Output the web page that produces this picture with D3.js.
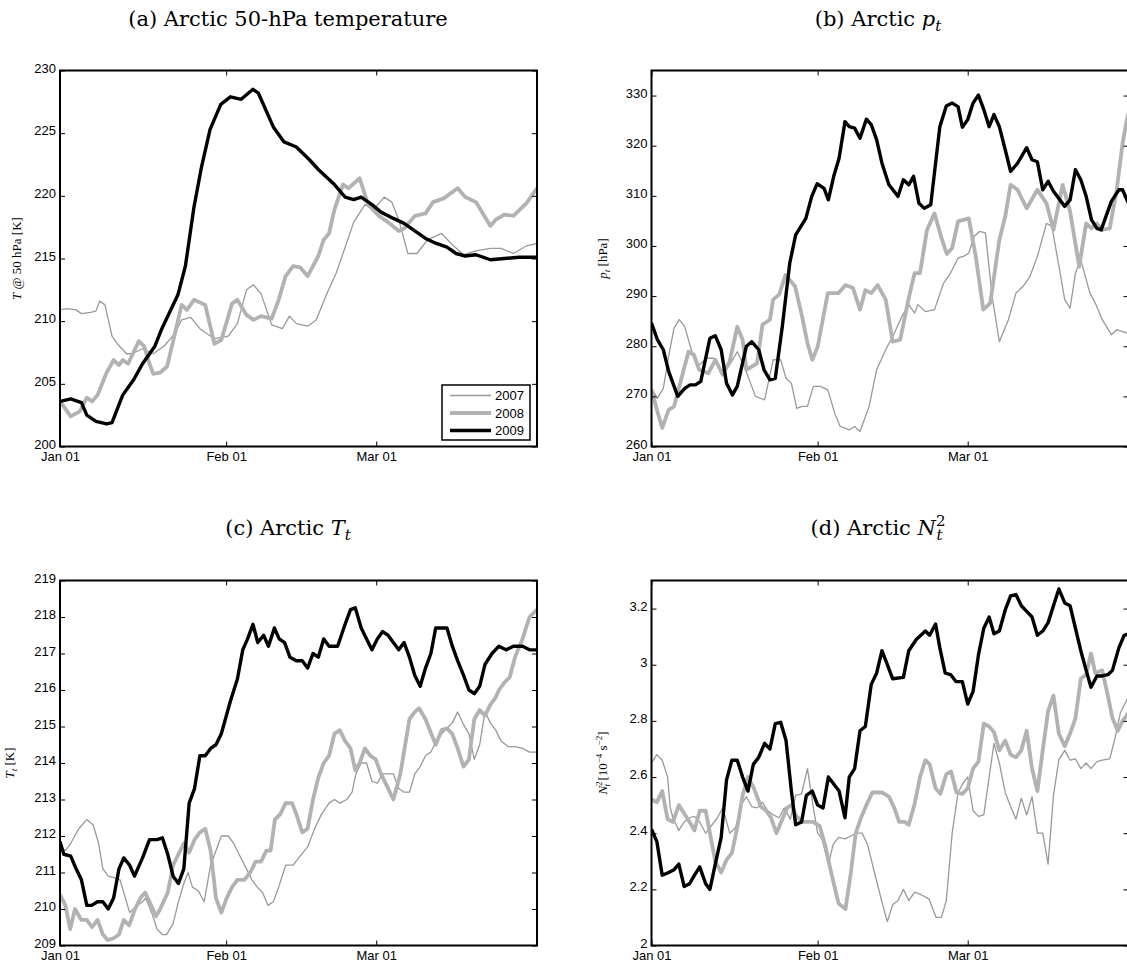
<!DOCTYPE html>
<html>
<head>
<meta charset="utf-8">
<script src="https://cdn.jsdelivr.net/npm/d3@7"></script>
<style>
  body { margin: 0; background: #fff; }
  svg { display: block; }
  .tick text { font-family: "Liberation Sans", Arial, sans-serif; font-size: 13px; fill: #000; }
  .tick line { stroke: #000; stroke-width: 1; }
  .title { font-family: "DejaVu Serif", serif; font-size: 21px; }
  .ylab { font-family: "Liberation Serif", serif; font-size: 13px; }
  .legend text { font-family: "Liberation Sans", Arial, sans-serif; font-size: 13px; }
</style>
</head>
<body>
<div id="chart"></div>
<script>
/**
 * Data: [day since Jan 01, value]
 */
const years = ["2007", "2008", "2009"],
    dayTicks = [0, 31, 59],
    dayLabels = ["Jan 01", "Feb 01", "Mar 01"],
    lastDay = 89;

// (a) 50-hPa temperature [K]
const a2007 = [[0,210.9],[1.3,211.0],[3,210.9],[4,210.6],[5.7,210.7],[6.7,210.8],[7.4,211.6],[8.4,211.3],[9.7,208.8],[10.7,208.2],[12.4,207.4],[13.4,207.4],[15.4,207.8],[17.4,207.4],[19.4,208.0],[21.4,209.0],[22.7,210.1],[24.4,210.3],[26.1,209.4],[28.8,208.6],[31.4,208.8],[33.1,209.8],[34.8,212.5],[36.1,212.9],[37.5,212.2],[39.5,209.7],[41.5,209.4],[42.8,210.4],[44.1,209.8],[46.2,209.6],[47.8,210.1],[49.8,212.2],[51.5,213.8],[52.8,215.4],[54.8,217.9],[56.9,219.3],[58.5,218.9],[60.5,219.9],[61.9,219.5],[63.2,218.1],[64.9,215.4],[66.6,215.4],[68.6,216.5],[71.2,217.0],[73.2,216.1],[75.3,215.3],[77.6,215.6],[80.3,215.8],[82.3,215.8],[84.6,215.4],[87,216.0],[89,216.2]];
const a2008 = [[0,203.6],[2,202.4],[3.7,202.8],[5,203.9],[6,203.6],[7,204.1],[8.7,205.9],[10,206.9],[11,206.5],[11.7,206.9],[12.7,206.6],[14.7,208.4],[15.7,208.0],[16.7,206.6],[17.4,205.8],[18.7,205.9],[20,206.4],[22.7,211.3],[23.7,210.9],[25,211.7],[27.1,211.3],[28.8,208.2],[30.1,208.5],[32.1,211.4],[33.1,211.7],[34.8,210.5],[36.1,210.1],[37.5,210.4],[39.5,210.2],[40.8,211.7],[42.1,213.6],[43.5,214.4],[44.8,214.3],[46.2,213.6],[48.2,215.2],[49.2,216.5],[50.2,217.0],[51.2,218.9],[52.8,220.9],[53.8,220.6],[55.9,221.4],[57.5,219.3],[59.5,218.4],[61.5,217.8],[63.2,217.2],[64.2,217.4],[66.2,218.4],[68.2,218.6],[69.6,219.5],[71.6,219.8],[74.2,220.6],[75.6,219.9],[77.6,219.5],[80.3,217.6],[81.3,218.1],[82.9,218.5],[84.6,218.4],[87,219.4],[89,220.6]];
const a2009 = [[0,203.6],[2,203.8],[4,203.5],[5,202.5],[6.7,202.0],[8.7,201.8],[9.7,201.9],[11.7,204.1],[13.7,205.3],[15.4,206.6],[17.7,208.0],[19,209.4],[22,212.1],[23.4,214.4],[25,219.1],[26.4,222.3],[28,225.3],[30,227.3],[31.8,227.9],[33.8,227.7],[36,228.5],[37,228.2],[39.8,225.5],[41.8,224.3],[44.1,223.9],[46.5,222.9],[48.2,222.1],[49.2,221.7],[51.2,220.9],[53.2,219.9],[54.8,219.7],[56.2,219.9],[58.2,219.3],[59.9,218.7],[62.2,218.2],[64.2,217.8],[66.2,217.2],[68.2,216.6],[70.2,216.2],[72.2,215.9],[73.9,215.4],[75.6,215.2],[77.6,215.3],[80.3,214.9],[82.9,215.0],[85.6,215.1],[89,215.1]];

// (b) tropopause pressure [hPa]
const b2007 = [[0,271.6],[1.1,269.6],[2.2,271.6],[3.2,278.0],[4.2,283.6],[5.2,285.3],[6.2,283.9],[7.6,278.6],[8.6,276.0],[10.3,277.6],[11.6,277.6],[13,275.0],[14.6,276.3],[16,278.9],[17.3,276.0],[19.4,270.0],[21.1,269.3],[22.7,277.3],[24.1,277.3],[25.1,273.6],[26.1,272.6],[27.1,267.6],[28.1,268.0],[29.1,268.0],[30.2,272.0],[31.5,272.0],[32.9,271.3],[34.2,266.6],[35.2,264.0],[36.9,263.3],[37.9,264.0],[38.9,263.0],[40.6,268.0],[42,275.3],[43.7,279.3],[45.3,282.6],[46.7,285.9],[48,288.3],[49.1,286.6],[49.7,288.3],[51.1,286.9],[52.8,287.3],[54.5,292.6],[55.8,294.6],[57.2,297.6],[58.2,297.9],[59.2,298.6],[60.2,301.9],[61.2,302.9],[62.3,302.6],[63.6,289.6],[64.9,280.9],[66.6,285.3],[68,290.6],[69.3,291.9],[70.6,293.9],[72,297.9],[73.7,304.5],[74.7,303.9],[75.7,297.9],[77.1,289.3],[78.1,287.6],[79.1,294.6],[80.1,297.2],[81.8,290.6],[82.8,288.6],[84.1,285.3],[85.8,282.3],[86.8,283.3],[88.7,282.6],[89,282.6]];
const b2008 = [[0,271.3],[1.1,267.0],[2,263.7],[3.2,267.3],[4.2,268.0],[5.2,272.0],[6.9,278.9],[7.9,278.3],[8.9,275.3],[10.6,274.6],[11.9,277.3],[13.3,274.3],[14.6,277.0],[16,283.9],[17,281.3],[17.7,275.3],[19.7,276.6],[20.7,284.3],[22.1,285.3],[22.7,289.3],[23.8,290.3],[25,294.2],[26.8,291.9],[28.1,285.9],[29.1,280.6],[30,277.3],[31,279.9],[32.9,290.6],[34.9,290.6],[36.2,292.2],[37.6,291.6],[38.9,287.3],[39.9,291.2],[41,290.6],[42.2,292.2],[43.7,289.3],[45,280.9],[46.4,281.3],[48,289.6],[49.1,294.6],[50.1,294.6],[51.4,303.2],[52.8,306.5],[54.1,301.6],[55.1,298.4],[56.1,299.6],[57.2,304.9],[59.2,305.5],[60.5,297.9],[61.9,287.3],[63.2,288.6],[64.9,301.2],[66,305.9],[67,312.2],[68.3,311.2],[70,307.5],[72,311.2],[73.7,308.5],[75,303.2],[76.7,312.2],[78.1,306.9],[79.8,295.9],[81.1,304.5],[82.1,303.5],[83.1,304.5],[84.1,303.2],[85.5,303.5],[86.8,311.2],[87.9,320.5],[88.7,325.2],[89,326.5]];
const b2009 = [[0,284.6],[1.1,281.3],[2.2,279.3],[3.2,275.0],[4.9,270.0],[6.2,271.6],[7.2,272.3],[8.2,272.3],[9.2,273.0],[10.9,281.6],[11.9,282.1],[13,279.3],[14,272.6],[15.1,270.3],[16,272.0],[17.7,280.0],[18.7,280.9],[20,279.3],[21,275.3],[22.1,273.3],[23.1,273.6],[24.4,283.9],[25.8,296.6],[26.9,302.2],[28.8,305.5],[29.9,309.9],[30.9,312.4],[32.2,311.5],[33,309.2],[34,313.9],[35,317.5],[36.1,324.8],[36.9,323.8],[37.9,323.5],[38.9,321.5],[40.1,325.3],[41,324.2],[42,321.2],[43,316.5],[44.3,312.2],[46,309.9],[47,313.2],[48,312.2],[48.9,313.9],[49.9,308.5],[50.9,307.5],[52.1,308.2],[53.8,323.8],[55,327.9],[56.1,328.5],[57.2,327.8],[58,323.7],[59,325.2],[60,328.5],[61,330.1],[62,327.2],[63,323.8],[63.9,326.2],[64.9,323.8],[66,319.2],[67,314.9],[68.3,316.5],[70,319.6],[71,317.2],[72,316.8],[73,311.2],[74,312.9],[75,310.9],[77.1,307.9],[78.1,309.2],[79.1,315.2],[80.1,313.2],[81.1,309.9],[82.1,305.2],[83.1,303.5],[83.9,303.2],[84.8,305.9],[85.8,308.9],[87.2,311.2],[87.9,311.2],[88.7,309.2],[89,308.5]];

// (c) tropopause temperature [K]
const c2007 = [[0,211.7],[1,211.6],[2,211.8],[3.5,212.2],[5,212.45],[6.2,212.3],[7.2,211.8],[8,211.1],[9,210.9],[10.2,210.85],[11.2,210.8],[12,210.4],[13,209.9],[14,210.05],[15.4,210.2],[16,210.3],[17.1,209.9],[18.1,209.45],[19.1,209.3],[19.9,209.3],[21.1,209.6],[22.1,210.2],[23.1,210.7],[23.9,211.0],[24.7,210.6],[25.8,210.5],[26.9,210.2],[28.1,211.2],[30.1,212.0],[31.4,212.0],[32.4,211.8],[33.4,211.5],[34.8,211.1],[35.8,210.8],[36.8,210.6],[37.8,210.45],[38.8,210.1],[39.8,210.2],[40.8,210.6],[42.1,211.2],[43.5,211.2],[44.8,211.45],[46.2,211.7],[47.5,212.2],[48.8,212.6],[50.2,212.9],[51.2,213.0],[52.2,212.9],[53.5,213.0],[54.5,213.2],[55.2,213.7],[56.2,214.0],[57.2,214.0],[58.2,213.5],[59.2,213.45],[60.2,213.7],[61.2,213.7],[62.2,213.7],[63.2,213.3],[64.2,213.2],[65.2,213.2],[66.2,213.7],[67.2,213.9],[68.2,214.2],[69.2,214.3],[70.2,214.6],[71.2,214.8],[72.2,214.95],[73.2,215.1],[74.2,215.4],[75.3,215.05],[76.3,214.8],[77.3,214.1],[78.3,214.5],[79.3,215.4],[80.3,215.1],[81.3,214.9],[82.3,214.6],[83.6,214.45],[84.9,214.45],[86.3,214.4],[87.6,214.3],[89,214.3]];
const c2008 = [[0,210.4],[1,210.1],[1.9,209.45],[2.8,210.0],[4,209.7],[5,209.7],[6,209.5],[7,209.7],[8,209.3],[8.9,209.15],[10,209.2],[11,209.3],[11.9,209.7],[12.9,209.55],[14,210.0],[15,210.3],[15.9,210.45],[16.7,210.2],[17.9,209.8],[18.7,210.0],[20.1,210.45],[21.1,211.2],[22.1,211.5],[23.1,211.8],[24.1,211.55],[25.1,211.9],[26.1,212.1],[27.1,212.2],[28.1,211.6],[29.1,210.3],[30.1,209.9],[31.1,210.3],[32.1,210.6],[33.1,210.8],[34.4,210.8],[35.5,211.0],[36.5,211.3],[37.5,211.3],[38.5,211.6],[39.3,211.6],[40.1,212.45],[41.1,212.6],[42.1,212.9],[43.3,212.9],[44.1,212.6],[45.2,212.1],[46.2,212.2],[47.2,213.0],[48.2,213.6],[49.2,214.0],[50.2,214.2],[51.2,214.8],[52.2,214.9],[53.2,214.6],[54.2,214.4],[55.1,213.8],[55.9,214.0],[56.9,214.4],[57.9,214.2],[58.9,214.1],[59.9,213.7],[60.9,213.4],[62.2,213.0],[63.5,213.7],[65.2,215.2],[66.2,215.4],[67,215.5],[68.2,215.2],[70.1,214.5],[71.2,214.9],[72.2,214.95],[73.2,214.8],[74.2,214.4],[75.3,213.9],[76.3,214.1],[77.3,215.2],[78.3,215.45],[79.3,215.3],[80.3,215.6],[81.3,215.8],[81.9,216.0],[82.9,216.2],[83.9,216.35],[84.9,216.9],[86.3,217.4],[87.6,218.0],[89,218.2]];
const c2009 = [[0,211.85],[0.7,211.5],[2,211.45],[3,211.1],[4,210.8],[5,210.1],[5.9,210.1],[7,210.2],[8,210.2],[9,210.0],[10,210.3],[11,211.1],[11.9,211.4],[13,211.2],[13.9,210.9],[15.4,211.4],[16.7,211.9],[18.1,211.9],[19.1,211.95],[20.1,211.5],[21.1,210.9],[22.1,210.7],[23.1,211.1],[24.1,212.9],[25.1,213.3],[26.1,214.2],[27.1,214.2],[28.1,214.4],[29.1,214.5],[30.1,214.8],[31.8,215.7],[33.1,216.3],[34.1,217.1],[35,217.4],[36,217.8],[36.9,217.3],[38,217.5],[38.9,217.2],[40,217.7],[40.9,217.4],[41.9,217.3],[42.9,216.9],[44.1,216.8],[45.2,216.8],[46.2,216.6],[47.2,217.0],[48.2,216.9],[49.2,217.4],[50.2,217.2],[51.8,217.2],[53.2,217.8],[54.2,218.2],[55.1,218.25],[56.2,217.7],[57.2,217.4],[58.2,217.1],[59.2,217.4],[60.2,217.6],[61.2,217.5],[62.2,217.3],[63.2,217.1],[64.2,217.3],[65.2,216.9],[66.2,216.4],[67.2,216.1],[68.2,216.6],[69.2,217.0],[70.1,217.7],[71.2,217.7],[72.2,217.7],[73.2,217.2],[74.2,216.8],[75.3,216.4],[76.3,216.0],[77.3,215.9],[78.3,216.1],[79.3,216.7],[80.6,217.0],[81.9,217.2],[83.2,217.1],[84.6,217.2],[86.3,217.2],[87.6,217.1],[89,217.1]];

// (d) tropopause N^2 [1e-4 s^-2]
const d2007 = [[0,2.65],[1,2.68],[2,2.66],[3,2.60],[3.5,2.49],[4,2.455],[5.1,2.41],[6.1,2.44],[7.1,2.455],[8,2.46],[9,2.44],[10.1,2.40],[11.3,2.43],[12.3,2.455],[13.3,2.49],[14.6,2.40],[15.7,2.42],[16.7,2.50],[17.7,2.53],[18.7,2.495],[19.7,2.49],[20.7,2.51],[21.7,2.48],[22.7,2.465],[23.8,2.455],[24.8,2.49],[25.9,2.45],[26.9,2.535],[28,2.54],[29.1,2.63],[30.2,2.49],[31,2.40],[31.8,2.38],[33,2.29],[33.9,2.36],[34.9,2.385],[36.1,2.38],[37.2,2.39],[38.3,2.40],[39.3,2.40],[40.3,2.36],[41.6,2.26],[43,2.155],[44,2.085],[45,2.145],[46,2.16],[47,2.20],[48,2.16],[49.1,2.19],[50.4,2.18],[51.8,2.165],[53.1,2.10],[54.1,2.10],[55,2.16],[56.1,2.40],[57.2,2.545],[58.2,2.58],[59,2.60],[60,2.48],[61,2.46],[62,2.465],[63,2.60],[63.9,2.72],[64.9,2.65],[66,2.545],[67,2.495],[68,2.45],[69,2.525],[70,2.465],[71,2.53],[72,2.40],[73,2.40],[74,2.29],[75,2.535],[76,2.66],[77.1,2.695],[78.1,2.66],[79.1,2.665],[80.1,2.63],[81.1,2.65],[82,2.63],[83.1,2.655],[84.1,2.66],[85.5,2.665],[86.5,2.74],[87.5,2.83],[88.7,2.875],[89,2.89]];
const d2008 = [[0,2.52],[1,2.51],[2,2.55],[3,2.45],[4,2.44],[5.1,2.50],[6.1,2.47],[7.1,2.44],[8,2.41],[9,2.48],[10.1,2.48],[10.9,2.40],[11.9,2.30],[13,2.26],[14,2.305],[15,2.33],[16,2.42],[17,2.535],[18,2.60],[19,2.565],[20.4,2.495],[21.4,2.48],[22.3,2.455],[23.3,2.40],[24.4,2.45],[25.3,2.49],[26.1,2.50],[26.9,2.465],[28.1,2.44],[30.2,2.44],[31.4,2.425],[32.5,2.35],[33.4,2.27],[34.9,2.15],[36.2,2.13],[37.2,2.26],[38.1,2.40],[39.1,2.455],[40.1,2.50],[41.2,2.545],[43,2.545],[44.3,2.53],[45.3,2.49],[46.2,2.44],[47.2,2.44],[48,2.43],[49.1,2.505],[50.1,2.60],[51.1,2.66],[51.9,2.645],[53,2.56],[53.9,2.54],[55,2.61],[55.9,2.62],[56.9,2.545],[58,2.54],[59,2.56],[60,2.63],[61,2.655],[62,2.79],[63,2.78],[63.9,2.76],[64.9,2.695],[66,2.73],[67,2.68],[68,2.67],[69,2.695],[70,2.765],[71,2.63],[72,2.55],[73,2.695],[74,2.835],[75,2.89],[76,2.755],[77.1,2.71],[78.1,2.755],[79.1,2.81],[80.1,2.95],[81.1,2.965],[82,3.04],[82.8,2.97],[84.1,2.98],[85.2,2.885],[86,2.81],[87,2.765],[87.9,2.80],[88.7,2.82],[89,2.83]];
const d2009 = [[0,2.414],[1,2.37],[2,2.25],[3.2,2.26],[4.2,2.27],[5.1,2.29],[6.1,2.21],[7.1,2.22],[8,2.25],[9,2.28],[10.1,2.22],[10.9,2.20],[11.9,2.29],[13,2.385],[14,2.59],[15,2.66],[16,2.66],[17,2.60],[18,2.55],[19,2.645],[20,2.67],[21.1,2.72],[22.1,2.70],[23.1,2.79],[24.1,2.795],[25.1,2.73],[26.1,2.55],[26.9,2.43],[28,2.44],[28.9,2.535],[30,2.55],[31,2.50],[32,2.49],[33,2.60],[34,2.575],[35,2.55],[36.1,2.455],[36.9,2.60],[37.9,2.63],[38.9,2.765],[39.9,2.78],[41,2.93],[42,2.97],[43,3.05],[44,3.00],[45,2.95],[47,2.955],[48,3.05],[49.4,3.09],[51.1,3.12],[51.9,3.105],[53,3.145],[53.8,3.06],[54.8,2.97],[55.8,2.965],[56.8,2.94],[58,2.94],[59,2.86],[60,2.905],[61,3.035],[62,3.13],[63,3.17],[63.9,3.11],[64.9,3.12],[66,3.195],[67,3.245],[68,3.25],[69,3.21],[70,3.19],[71,3.17],[72,3.105],[73,3.12],[74,3.15],[75,3.21],[76,3.27],[77.1,3.22],[78.1,3.21],[79.1,3.13],[80.1,3.05],[81.1,2.98],[82,2.92],[83.1,2.96],[84.1,2.96],[85.2,2.965],[86,2.98],[87.2,3.06],[88.2,3.105],[89,3.11]];

const yTicksA = [200, 205, 210, 215, 220, 225, 230],
    yTicksB = [260, 270, 280, 290, 300, 310, 320, 330],
    yTicksC = [209, 210, 211, 212, 213, 214, 215, 216, 217, 218, 219],
    yTicksD = [2, 2.2, 2.4, 2.6, 2.8, 3, 3.2];

/**
 * Layout & styles
 */
const width = 1127, height = 975,
    plotW = 477,
    lineStyle = [
        { color: "#999999", w: 1.3 },
        { color: "#b2b2b2", w: 3.8 },
        { color: "#000000", w: 3.4 }
    ];

const panels = [
    { key: "a", left: 60, top: 70.5, h: 376, domain: [200, 230], ticks: yTicksA, series: [a2007, a2008, a2009], ylabX: 21, legend: true },
    { key: "b", left: 651.5, top: 70.5, h: 376, domain: [260, 335], ticks: yTicksB, series: [b2007, b2008, b2009], ylabX: 607 },
    { key: "c", left: 60, top: 580.5, h: 365, domain: [209, 219], ticks: yTicksC, series: [c2007, c2008, c2009], ylabX: 14 },
    { key: "d", left: 651.5, top: 580.5, h: 365, domain: [2, 3.3], ticks: yTicksD, series: [d2007, d2008, d2009], ylabX: 607 }
];

const svg = d3.select("#chart").append("svg")
    .attr("width", width)
    .attr("height", height)
    .style("background", "#fff");

panels.forEach(p => {
    const xScale = d3.scaleLinear().domain([0, lastDay]).range([0, plotW]);
    const yScale = d3.scaleLinear().domain(p.domain).range([p.h, 0]);

    const g = svg.append("g").attr("transform", `translate(${p.left},${p.top})`);

    g.append("clipPath").attr("id", "clip-" + p.key)
        .append("rect").attr("width", plotW).attr("height", p.h);

    const lineFunc = d3.line()
        .x(d => xScale(d[0]))
        .y(d => yScale(d[1]));

    g.append("g").attr("clip-path", `url(#clip-${p.key})`)
        .selectAll("path")
        .data(p.series)
        .join("path")
        .attr("fill", "none")
        .attr("stroke", (d, i) => lineStyle[i].color)
        .attr("stroke-width", (d, i) => lineStyle[i].w)
        .attr("stroke-linejoin", "round")
        .attr("d", lineFunc);

    // axes: ticks pointing inward on all four sides
    const fmt = v => d3.format("~g")(v);
    g.append("g").attr("class", "axis y-left")
        .call(d3.axisLeft(yScale).tickValues(p.ticks).tickSize(-5).tickSizeOuter(0).tickPadding(4).tickFormat(fmt))
        .call(s => s.select(".domain").remove())
        .call(s => s.selectAll("text").attr("dy", "0.12em"));
    g.append("g").attr("class", "axis")
        .attr("transform", `translate(${plotW},0)`)
        .call(d3.axisRight(yScale).tickValues(p.ticks).tickSize(-5).tickSizeOuter(0).tickFormat(""))
        .call(s => s.select(".domain").remove());
    g.append("g").attr("class", "axis")
        .attr("transform", `translate(0,${p.h})`)
        .call(d3.axisBottom(xScale).tickValues(dayTicks).tickSize(-5).tickSizeOuter(0).tickPadding(5)
            .tickFormat((d, i) => dayLabels[i]))
        .call(s => s.select(".domain").remove());
    g.append("g").attr("class", "axis")
        .call(d3.axisTop(xScale).tickValues(dayTicks).tickSize(-5).tickSizeOuter(0).tickFormat(""))
        .call(s => s.select(".domain").remove());

    // frame
    g.append("rect")
        .attr("width", plotW).attr("height", p.h)
        .attr("fill", "none").attr("stroke", "#000").attr("stroke-width", 2);

    // legend (panel a only)
    if (p.legend) {
        const lw = 88, lh = 55;
        const lg = g.append("g").attr("class", "legend")
            .attr("transform", `translate(${plotW - 7 - lw},${p.h - 6.5 - lh})`);
        lg.append("rect").attr("width", lw).attr("height", lh)
            .attr("fill", "#fff").attr("stroke", "#000").attr("stroke-width", 1.5);
        years.forEach((yr, i) => {
            const yy = 10.5 + i * 17.5;
            lg.append("line").attr("x1", 8).attr("x2", 49).attr("y1", yy).attr("y2", yy)
                .attr("stroke", lineStyle[i].color).attr("stroke-width", lineStyle[i].w);
            lg.append("text").attr("x", 53).attr("y", yy).attr("dy", "0.35em").text(yr);
        });
    }
});

/**
 * Titles (serif, with math-style sub/superscripts)
 */
function addText(sel, parts) {
    parts.forEach(pt => {
        const ts = sel.append("tspan").text(pt.t);
        if (pt.i) ts.attr("font-style", "italic");
        if (pt.dy) ts.attr("dy", pt.dy);
        if (pt.dx) ts.attr("dx", pt.dx);
        if (pt.s) ts.attr("font-size", pt.s);
    });
}
function title(x, y, parts) {
    const t = svg.append("text").attr("class", "title")
        .attr("x", x).attr("y", y).attr("text-anchor", "middle");
    addText(t, parts);
}
title(288, 26, [{ t: "(a) Arctic 50-hPa temperature" }]);
title(878, 26, [{ t: "(b) Arctic " }, { t: "p", i: 1 }, { t: "t", i: 1, dy: 5, s: 15 }]);
title(288, 535, [{ t: "(c) Arctic " }, { t: "T", i: 1 }, { t: "t", i: 1, dy: 5, s: 15 }]);
title(878, 535, [{ t: "(d) Arctic " }, { t: "N", i: 1 }, { t: "2", dy: -9, s: 15 }, { t: "t", i: 1, dy: 14, dx: -9, s: 15 }]);

/**
 * Y-axis labels (rotated)
 */
function ylabel(x, cy, parts) {
    const t = svg.append("text").attr("class", "ylab")
        .attr("transform", `translate(${x},${cy}) rotate(-90)`)
        .attr("text-anchor", "middle");
    addText(t, parts);
}
ylabel(panels[0].ylabX, panels[0].top + panels[0].h / 2, [{ t: "T", i: 1 }, { t: "  @ 50 hPa [K]" }]);
ylabel(panels[1].ylabX, panels[1].top + panels[1].h / 2, [{ t: "p", i: 1 }, { t: "t", i: 1, dy: 3, s: 9 }, { t: "  [hPa]", dy: -3 }]);
ylabel(panels[2].ylabX, panels[2].top + panels[2].h / 2, [{ t: "T", i: 1 }, { t: "t", i: 1, dy: 3, s: 9 }, { t: " [K]", dy: -3 }]);
ylabel(panels[3].ylabX, panels[3].top + panels[3].h / 2, [
    { t: "N", i: 1 }, { t: "2", dy: -5, s: 9 }, { t: "t", i: 1, dy: 8, dx: -5, s: 9 },
    { t: " [10", dy: -3 }, { t: "−4", dy: -5, s: 9 }, { t: " s", dy: 5 }, { t: "−2", dy: -5, s: 9 }, { t: "]", dy: 5 }
]);
</script>
</body>
</html>
